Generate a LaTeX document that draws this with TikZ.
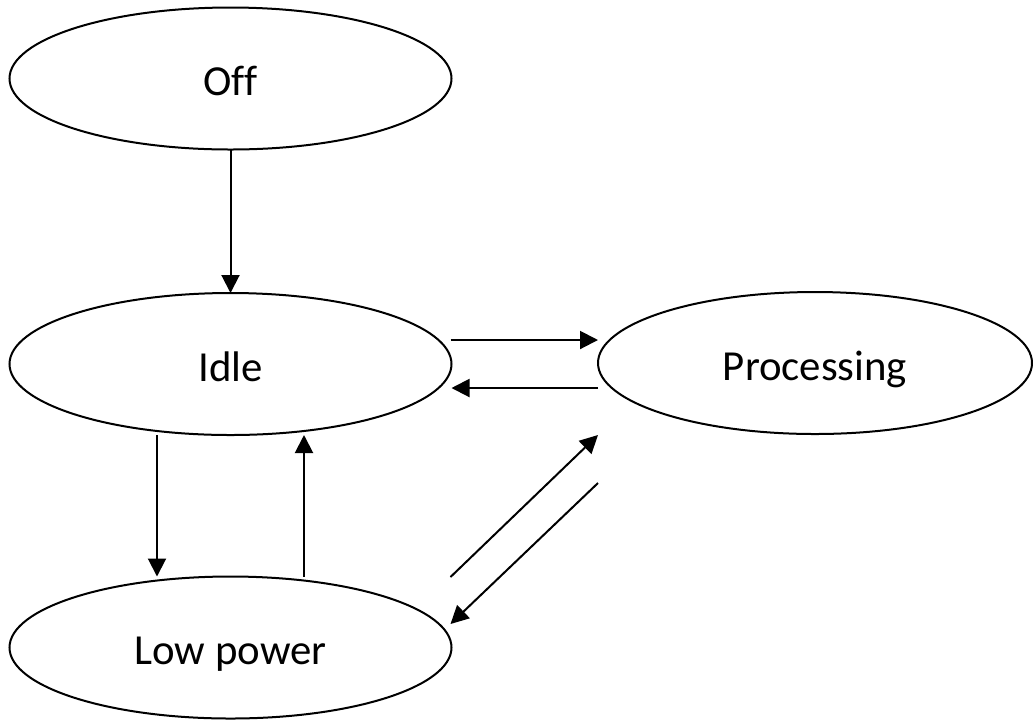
\documentclass[tikz,border=0pt]{standalone}
\usepackage{fontspec}
\setmainfont{Carlito}[Ligatures=NoCommon]
\usetikzlibrary{arrows.meta,calc,shapes.geometric}
\begin{document}
\begin{tikzpicture}[x=0.5pt,y=-0.5pt,
  state/.style={ellipse,draw=black,line width=1pt,inner sep=0pt,outer sep=0pt,
    minimum width=221pt,minimum height=71pt,text height=17pt,text depth=0pt,
    font=\fontsize{21.4}{26}\selectfont},
  arr/.style={line width=1pt,-{Triangle[length=9pt,width=9pt]}}]
  \useasboundingbox (0,0) rectangle (1033,720);
  % states
  \node[state] (off)  at (230.5,78.5) {Off};
  \node[state] (idle) at (230.5,364)  {Idle};
  \node[state,minimum width=217pt] (proc) at (815,363) {Processing};
  \node[state] (low)  at (230.5,647.5) {Low power};
  % transitions
  \draw[arr] (off.south) -- (idle.north);
  \draw[arr] ($(idle.east)+(-1,-24)$) -- ($(proc.west)+(0,-23)$);
  \draw[arr] ($(proc.west)+(0,25)$) -- ($(idle.east)+(0,24)$);
  \draw[arr] ($(idle.south)+(-73.5,0)$) -- ($(low.north)+(-73.5,0)$);
  \draw[arr] ($(low.north)+(73.5,0)$) -- ($(idle.south)+(73.5,0)$);
  \draw[arr] ($(low.east)+(-1,-70.5)$) -- ($(proc.west)+(0,72)$);
  \draw[arr] ($(proc.west)+(0,120)$) -- ($(low.east)+(-1,-23.5)$);
\end{tikzpicture}
\end{document}
